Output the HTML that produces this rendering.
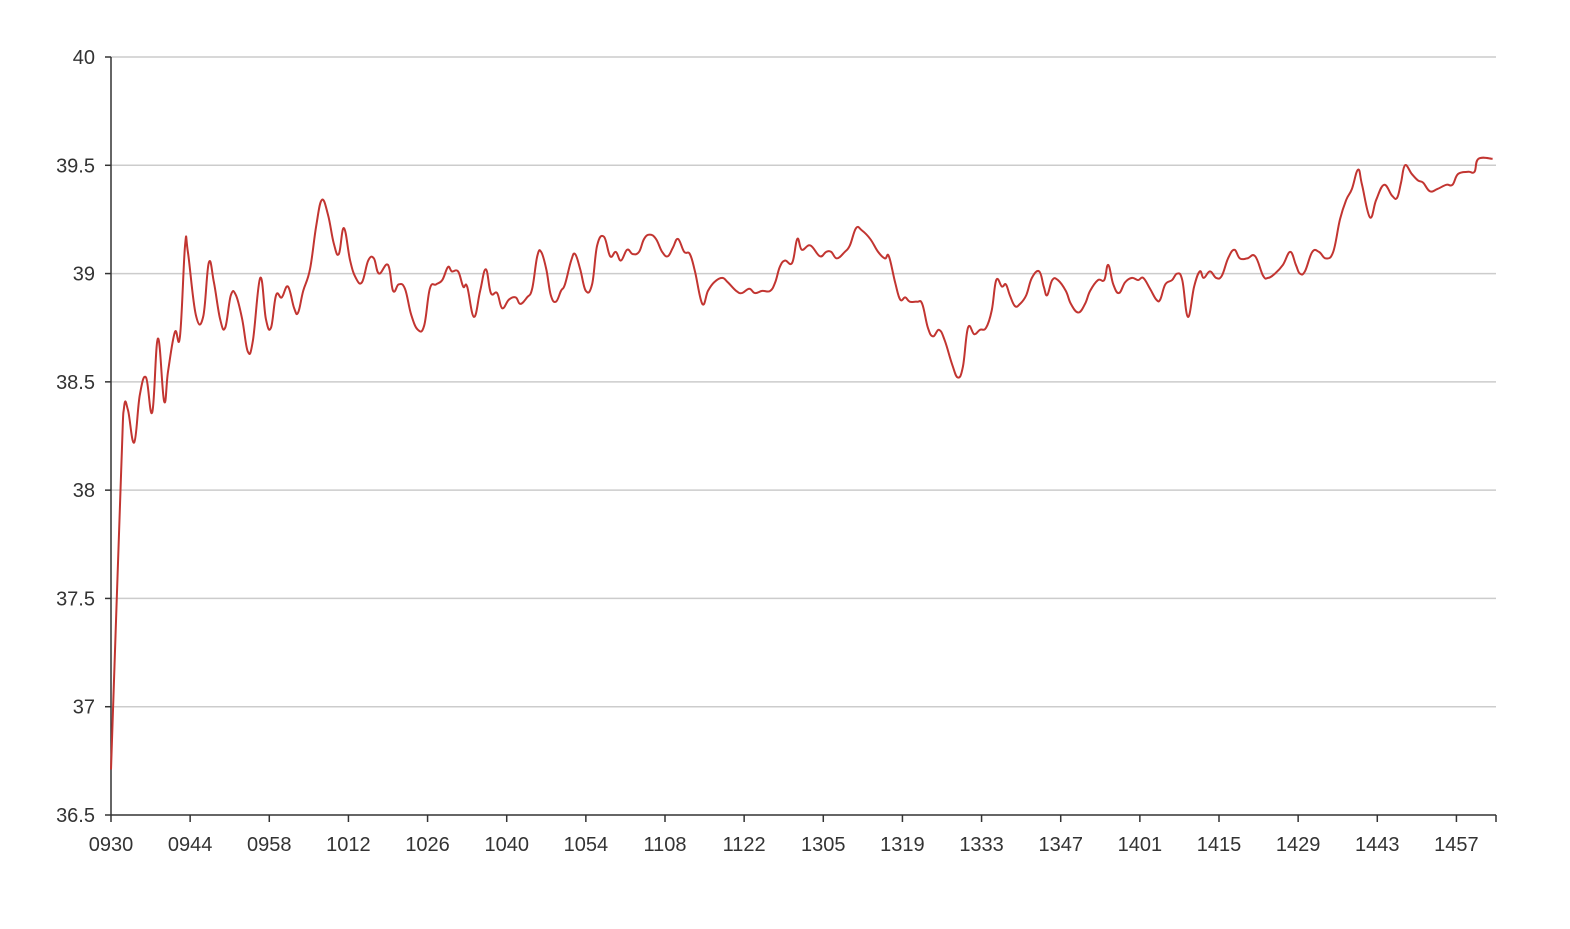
<!DOCTYPE html>
<html><head><meta charset="utf-8"><style>
html,body{margin:0;padding:0;background:#fff;}
svg text{font-family:"Liberation Sans",sans-serif;font-size:20px;fill:#333;}
</style></head><body>
<svg id="chart" width="1570" height="924" viewBox="0 0 1570 924" xmlns="http://www.w3.org/2000/svg">
<g id="grid"></g>
<g id="yaxis"></g>
<g id="xaxis"></g>
<path id="line" fill="none" stroke="#c23531" stroke-width="2" stroke-linejoin="round"></path>
</svg>
<script>
const tickLabels=["0930","0944","0958","1012","1026","1040","1054","1108","1122","1305","1319","1333","1347","1401","1415","1429","1443","1457"];
const yTicks=[36.5,37,37.5,38,38.5,39,39.5,40];
const seriesT=[0,1.8,2.3,3.0,4.1,5.1,6.2,7.3,8.3,9.4,10.1,11.3,12.2,13.1,13.6,15.0,16.3,17.3,18.2,19.3,20.2,21.2,22.1,23.2,24.2,25.1,26.4,27.4,28.3,29.2,30.2,31.3,32.4,33.1,34.0,35.2,36.3,37.3,38.4,39.4,40.3,41.2,42.3,43.3,44.4,45.5,46.5,47.4,49.0,49.9,50.9,52.0,53.1,54.3,55.4,56.4,57.5,58.6,59.6,60.3,61.4,62.3,63.0,64.2,65.3,66.3,67.2,68.3,69.2,70.4,71.6,72.4,73.6,74.5,75.4,76.1,77.0,77.8,78.7,79.6,80.3,81.4,82.1,83.0,84.0,85.1,86.0,87.2,88.3,89.3,90.2,91.3,92.3,93.4,94.3,95.3,96.4,97.5,98.5,99.4,100.3,101.4,102.4,103.3,104.6,105.6,106.7,108.1,109.1,110.6,111.6,112.9,113.9,115.2,116.6,117.5,118.3,119.2,120.5,121.4,122.2,123.7,125.4,126.5,127.4,128.4,129.8,130.7,131.8,132.8,134.3,135.7,136.9,137.6,138.7,139.6,140.5,141.3,142.6,143.5,144.5,145.4,146.5,147.5,148.8,149.8,150.7,151.6,152.7,153.7,154.8,155.8,156.6,157.6,158.3,159.0,159.9,160.8,161.9,162.9,164.2,165.0,165.6,166.5,167.5,168.9,169.8,171.1,172.3,173.2,174.6,175.7,176.4,177.3,178.3,179.4,180.6,181.7,182.6,183.8,184.9,185.6,186.5,187.7,188.6,189.5,190.5,191.6,192.6,193.3,194.4,195.5,196.5,197.6,198.7,199.7,201.0,202.4,203.8,204.7,205.9,207.3,208.6,209.6,210.3,211.2,212.5,213.7,214.9,216.2,217.4,218.5,219.5,220.6,221.3,222.7,223.8,225.2,226.6,227.5,228.2,228.9,230.1,231.2,232.1,233.3,234.6,236.2,237.3,238.3,240.1,241.2,241.9,244.4];
const seriesV=[36.71,38.09,38.38,38.37,38.22,38.44,38.52,38.36,38.70,38.41,38.55,38.73,38.71,39.13,39.10,38.81,38.80,39.05,38.96,38.79,38.75,38.90,38.90,38.79,38.64,38.69,38.98,38.79,38.75,38.90,38.89,38.94,38.84,38.82,38.92,39.02,39.22,39.34,39.27,39.14,39.09,39.21,39.06,38.98,38.96,39.06,39.07,39.00,39.04,38.92,38.95,38.93,38.81,38.74,38.76,38.93,38.95,38.97,39.03,39.01,39.01,38.94,38.94,38.80,38.92,39.02,38.91,38.91,38.84,38.88,38.89,38.86,38.89,38.93,39.08,39.10,39.02,38.90,38.87,38.92,38.95,39.06,39.09,39.02,38.92,38.95,39.13,39.17,39.08,39.10,39.06,39.11,39.09,39.10,39.16,39.18,39.16,39.10,39.08,39.12,39.16,39.10,39.09,39.01,38.86,38.92,38.96,38.98,38.96,38.92,38.91,38.93,38.91,38.92,38.92,38.96,39.03,39.06,39.05,39.16,39.11,39.13,39.08,39.10,39.10,39.07,39.10,39.13,39.21,39.20,39.16,39.10,39.07,39.08,38.96,38.88,38.89,38.87,38.87,38.86,38.75,38.71,38.74,38.69,38.58,38.52,38.57,38.75,38.72,38.74,38.75,38.83,38.97,38.94,38.95,38.90,38.85,38.86,38.90,38.98,39.01,38.94,38.90,38.97,38.97,38.92,38.86,38.82,38.86,38.92,38.97,38.97,39.04,38.95,38.91,38.96,38.98,38.97,38.98,38.93,38.88,38.88,38.95,38.97,39.00,38.97,38.80,38.94,39.01,38.98,39.01,38.98,38.99,39.07,39.11,39.07,39.07,39.08,38.99,38.98,39.00,39.04,39.10,39.04,39.00,39.01,39.10,39.10,39.07,39.10,39.25,39.34,39.39,39.48,39.41,39.26,39.34,39.41,39.36,39.35,39.42,39.50,39.46,39.43,39.42,39.38,39.39,39.41,39.41,39.46,39.47,39.47,39.53,39.53];
const X0=111,X1=1496,XMAX=245,Y0=815,Y1=57,VMIN=36.5,VMAX=40;
const xs=t=>X0+t*(X1-X0)/XMAX;
const ys=v=>Y0-(v-VMIN)*(Y0-Y1)/(VMAX-VMIN);
const NS="http://www.w3.org/2000/svg";
function mk(tag,attrs,parent){const e=document.createElementNS(NS,tag);for(const k in attrs)e.setAttribute(k,attrs[k]);parent.appendChild(e);return e;}
const grid=document.getElementById('grid'),ya=document.getElementById('yaxis'),xa=document.getElementById('xaxis');
yTicks.forEach(v=>{
  const y=ys(v);
  if(v>VMIN){const g=mk('line',{x1:X0,x2:X1,y1:y,y2:y,stroke:'#ccc','stroke-width':1.5},grid);
  
  }
  const tk=mk('line',{x1:X0-6,x2:X0,y1:y,y2:y,stroke:'#333','stroke-width':1.5},ya);
  
  
  const t=mk('text',{x:X0-16,y:y+7,'text-anchor':'end'},ya);t.textContent=String(v);
  
  
});
const al=mk('line',{x1:X0,x2:X0,y1:Y1,y2:Y0,stroke:'#333','stroke-width':1.5},ya);


const bl=mk('line',{x1:X0,x2:X1,y1:Y0,y2:Y0,stroke:'#333','stroke-width':1.5},xa);


tickLabels.forEach((lab,i)=>{
  const x=xs(i*14);
  const tk=mk('line',{x1:x,x2:x,y1:Y0,y2:Y0+7,stroke:'#333','stroke-width':1.5},xa);
  
  
  const t=mk('text',{x:x,y:Y0+36,'text-anchor':'middle'},xa);t.textContent=lab;
  
  
});
const et=mk('line',{x1:X1,x2:X1,y1:Y0,y2:Y0+7,stroke:'#333','stroke-width':1.5},xa);


const P=seriesT.map((t,i)=>[xs(t),ys(seriesV[i])]);
let d='M'+P[0][0]+','+P[0][1];
for(let i=0;i<P.length-1;i++){
  const p0=P[Math.max(0,i-1)],p1=P[i],p2=P[i+1],p3=P[Math.min(P.length-1,i+2)];
  const k=0.2;
  let c1=[p1[0]+(p2[0]-p0[0])*k,p1[1]+(p2[1]-p0[1])*k];
  let c2=[p2[0]-(p3[0]-p1[0])*k,p2[1]-(p3[1]-p1[1])*k];
  d+=` C${c1[0]},${c1[1]} ${c2[0]},${c2[1]} ${p2[0]},${p2[1]}`;
}
document.getElementById('line').setAttribute('d',d);
</script>
</body></html>
